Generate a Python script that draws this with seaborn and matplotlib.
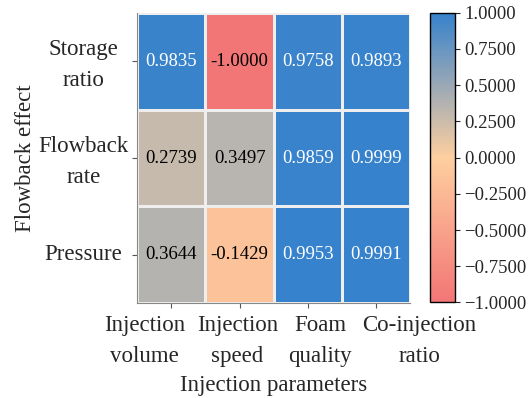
import numpy as np
import pandas as pd
import matplotlib
matplotlib.use("Agg")
import matplotlib.pyplot as plt
import matplotlib.transforms as mtransforms
import seaborn as sns
from matplotlib.colors import LinearSegmentedColormap

row_labels = ["Storage\nratio", "Flowback\nrate", "Pressure"]
col_labels = ["Injection\nvolume", "Injection\nspeed", "Foam\nquality", "Co-injection\nratio"]
storage_ratio = [0.9835, -1.0000, 0.9758, 0.9893]
flowback_rate = [0.2739, 0.3497, 0.9859, 0.9999]
pressure = [0.3644, -0.1429, 0.9953, 0.9991]
cbar_ticks = [-1.0, -0.75, -0.5, -0.25, 0.0, 0.25, 0.5, 0.75, 1.0]

df = pd.DataFrame([storage_ratio, flowback_rate, pressure],
                  index=row_labels, columns=col_labels)

sns.set_style("ticks")
plt.rcParams["font.family"] = ["Liberation Serif", "DejaVu Serif"]
plt.rcParams["mathtext.fontset"] = "stix"

cmap = LinearSegmentedColormap.from_list(
    "corr", ["#F27676", "#FECF9F", "#3682CC"])

fig = plt.figure(figsize=(5.32, 3.98), dpi=100)
ax = fig.add_axes([0.258, 0.238, 0.513, 0.73])
cax = fig.add_axes([0.808, 0.24, 0.047, 0.728])

sns.heatmap(df, ax=ax, cbar_ax=cax, cmap=cmap, vmin=-1, vmax=1,
            annot=True, fmt=".4f", linewidths=0.8, linecolor="#EEEEEE",
            annot_kws={"fontsize": 13.5},
            cbar_kws={"ticks": cbar_ticks})

for t in ax.texts:
    v = float(t.get_text())
    t.set_color("white" if v > 0.6 else "black")

ax.set_xlabel("Injection parameters", fontsize=16.5, labelpad=6)
ax.set_ylabel("Flowback effect", fontsize=16.5, labelpad=2)
ax.set_xticklabels(col_labels, rotation=0, fontsize=16.5, ha="center",
                   linespacing=1.6)
ax.set_yticklabels(row_labels, rotation=0, fontsize=16.5, va="center",
                   ha="center", multialignment="center", linespacing=1.6)
ax.tick_params(axis="both", length=3.5, color="#555555")
ax.tick_params(axis="x", pad=5)

# spread the column labels so neighbouring captions don't collide
x_shift_px = [-26.5, -2, 12.5, 43]
for lab, dx in zip(ax.get_xticklabels(), x_shift_px):
    lab.set_transform(lab.get_transform() +
                      mtransforms.ScaledTranslation(dx / 100, 0, fig.dpi_scale_trans))
# centre the row labels in a common column
for lab in ax.get_yticklabels():
    dy = -0.04 if "\n" in lab.get_text() else 0.0
    lab.set_transform(lab.get_transform() +
                      mtransforms.ScaledTranslation(-0.44, dy, fig.dpi_scale_trans))

for side in ["left", "bottom"]:
    ax.spines[side].set_visible(True)
    ax.spines[side].set_color("#888888")

cbar = ax.collections[0].colorbar
cbar.ax.tick_params(labelsize=13.5, length=3.5)
cbar.outline.set_visible(True)
cbar.outline.set_edgecolor("black")
cbar.outline.set_linewidth(1)
cbar.set_ticklabels([f"{v:.4f}".replace("-", "\u2212") for v in cbar_ticks])

fig.savefig("out.png", dpi=100)
